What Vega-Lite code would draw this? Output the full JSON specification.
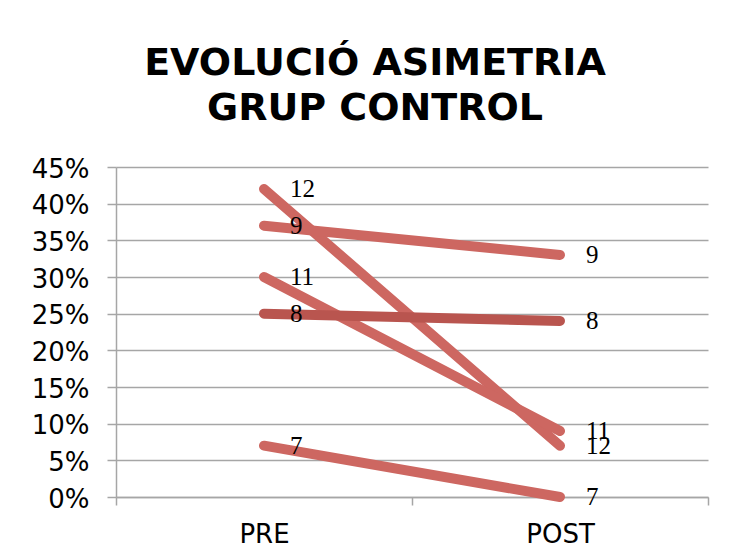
{
  "$schema": "https://vega.github.io/schema/vega-lite/v6.json",
  "width": 592,
  "height": 330,
  "autosize": {"type": "none"},
  "padding": {"left": 116, "top": 167, "right": 24, "bottom": 58},
  "background": "white",
  "title": {
    "text": ["EVOLUCIÓ ASIMETRIA", "GRUP CONTROL"],
    "font": "DejaVu Sans",
    "fontWeight": "bold",
    "fontSize": 38,
    "lineHeight": 45,
    "color": "black",
    "anchor": "middle",
    "dx": -37,
    "offset": 28
  },
  "data": {
    "values": [
      {"serie": "12", "fase": "PRE", "valor": 0.42},
      {"serie": "12", "fase": "POST", "valor": 0.07},
      {"serie": "9", "fase": "PRE", "valor": 0.37},
      {"serie": "9", "fase": "POST", "valor": 0.33},
      {"serie": "11", "fase": "PRE", "valor": 0.30},
      {"serie": "11", "fase": "POST", "valor": 0.09},
      {"serie": "8", "fase": "PRE", "valor": 0.25},
      {"serie": "8", "fase": "POST", "valor": 0.24},
      {"serie": "7", "fase": "PRE", "valor": 0.07},
      {"serie": "7", "fase": "POST", "valor": 0.0}
    ]
  },
  "encoding": {
    "x": {
      "field": "fase",
      "type": "nominal",
      "sort": ["PRE", "POST"],
      "title": null,
      "scale": {"paddingInner": 0, "paddingOuter": 0},
      "axis": {
        "labelAngle": 0,
        "labelFont": "DejaVu Sans",
        "labelFontSize": 26,
        "labelColor": "black",
        "labelPadding": 16,
        "domainColor": "#A6A6A6",
        "domainWidth": 1.5,
        "tickColor": "#A6A6A6",
        "tickWidth": 1.5,
        "tickSize": 8,
        "tickBand": "extent",
        "grid": false
      }
    },
    "y": {
      "field": "valor",
      "type": "quantitative",
      "title": null,
      "scale": {"domain": [0, 0.45], "nice": false},
      "axis": {
        "format": ".0%",
        "values": [0, 0.05, 0.1, 0.15, 0.2, 0.25, 0.3, 0.35, 0.4, 0.45],
        "labelFont": "DejaVu Sans",
        "labelFontSize": 26,
        "labelColor": "black",
        "labelPadding": 18,
        "labelBaseline": "middle",
        "labelOffset": 2,
        "domainColor": "#A6A6A6",
        "domainWidth": 1.5,
        "tickColor": "#A6A6A6",
        "tickWidth": 1.5,
        "tickSize": 9,
        "gridColor": "#A6A6A6",
        "gridWidth": 1.5
      }
    }
  },
  "layer": [
    {
      "mark": {"type": "line", "strokeWidth": 10, "strokeCap": "round", "strokeJoin": "round"},
      "encoding": {
        "detail": {"field": "serie"},
        "color": {
          "field": "serie",
          "type": "nominal",
          "legend": null,
          "scale": {
            "domain": ["12", "9", "11", "8", "7"],
            "range": ["#CD6761", "#CD6761", "#CD6761", "#B9554F", "#CD6761"]
          }
        }
      }
    },
    {
      "mark": {
        "type": "text",
        "align": "left",
        "baseline": "middle",
        "dx": 26,
        "font": "Liberation Serif",
        "fontSize": 25,
        "color": "black"
      },
      "encoding": {"text": {"field": "serie"}}
    }
  ],
  "config": {"view": {"stroke": null}}
}
